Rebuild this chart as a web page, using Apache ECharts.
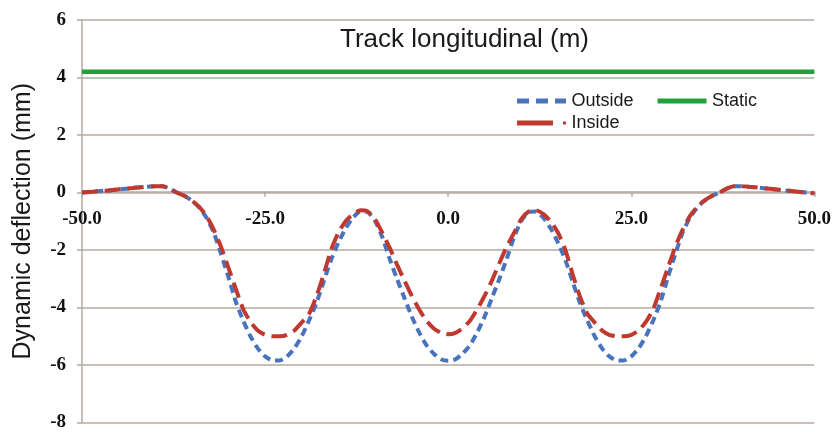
<!DOCTYPE html>
<html><head><meta charset="utf-8">
<script src="https://cdn.jsdelivr.net/npm/echarts@6/dist/echarts.min.js"></script>
<style>html,body{margin:0;padding:0;background:#fff}#c{width:834px;height:432px}</style>
</head><body><div id="c"></div>
<script>
// Track longitudinal position (m)
const positions = [-50,-49,-48,-47,-46,-45,-44,-43,-42,-41,-40,-39,-38,-37,-36,-35,-34,-33,-32,-31,-30,-29,-28,-27,-26,-25,-24,-23,-22,-21,-20,-19,-18,-17,-16,-15,-14,-13,-12,-11,-10,-9,-8,-7,-6,-5,-4,-3,-2,-1,0,1,2,3,4,5,6,7,8,9,10,11,12,13,14,15,16,17,18,19,20,21,22,23,24,25,26,27,28,29,30,31,32,33,34,35,36,37,38,39,40,41,42,43,44,45,46,47,48,49,50];
// Dynamic deflection (mm)
const outside = [0.00,0.02,0.04,0.06,0.08,0.11,0.13,0.16,0.18,0.20,0.22,0.22,0.13,-0.01,-0.12,-0.28,-0.52,-0.88,-1.40,-2.15,-2.95,-3.80,-4.45,-5.00,-5.42,-5.70,-5.84,-5.84,-5.70,-5.42,-5.00,-4.45,-3.85,-3.10,-2.35,-1.75,-1.25,-0.88,-0.66,-0.68,-0.98,-1.55,-2.30,-3.00,-3.65,-4.30,-4.85,-5.30,-5.60,-5.80,-5.85,-5.80,-5.60,-5.30,-4.85,-4.30,-3.65,-3.00,-2.30,-1.55,-0.98,-0.68,-0.66,-0.88,-1.25,-1.75,-2.35,-3.10,-3.85,-4.45,-5.00,-5.42,-5.70,-5.84,-5.84,-5.70,-5.42,-5.00,-4.45,-3.80,-2.95,-2.15,-1.40,-0.88,-0.52,-0.28,-0.12,-0.01,0.13,0.22,0.22,0.20,0.18,0.15,0.13,0.10,0.07,0.05,0.02,0.00,-0.03];
const inside = [0.00,0.02,0.04,0.06,0.08,0.11,0.13,0.16,0.18,0.20,0.22,0.22,0.13,-0.01,-0.12,-0.28,-0.50,-0.82,-1.30,-1.90,-2.62,-3.35,-4.05,-4.50,-4.80,-4.95,-5.00,-5.00,-4.95,-4.80,-4.52,-4.22,-3.62,-2.85,-2.00,-1.40,-1.00,-0.75,-0.62,-0.66,-0.92,-1.40,-1.92,-2.50,-3.05,-3.58,-4.05,-4.45,-4.72,-4.88,-4.93,-4.88,-4.72,-4.45,-4.05,-3.58,-3.05,-2.45,-1.88,-1.40,-0.92,-0.66,-0.62,-0.75,-1.00,-1.40,-2.00,-2.85,-3.62,-4.22,-4.52,-4.80,-4.95,-5.00,-5.00,-4.95,-4.80,-4.50,-4.05,-3.35,-2.62,-1.90,-1.30,-0.82,-0.50,-0.28,-0.12,-0.01,0.13,0.22,0.22,0.20,0.18,0.15,0.13,0.10,0.07,0.05,0.02,0.00,-0.03];
const staticValue = 4.2;
const staticRange = [-50, 50];
const yTicks = [-8,-6,-4,-2,0,2,4,6];
const xTicks = [-50,-25,0,25,50];

const gridTop = 20, gridBottom = 8, chartH = 432;
const yMin = -8, yMax = 6;
// move the x axis up so it sits on y = 0
const plotH = chartH - gridTop - gridBottom;
const xAxisOffset = -plotH * (0 - yMin) / (yMax - yMin);

const gridColor = '#b3aaa3';
const chart = echarts.init(document.getElementById('c'));
chart.setOption({
  animation: false,
  backgroundColor: '#fff',
  title: {
    text: 'Track longitudinal (m)', left: 335, top: 22,
    textStyle: { fontFamily: 'Liberation Sans', fontSize: 26, fontWeight: 'normal', color: '#1a1a1a' }
  },
  legend: [
    {
      left: 512, top: 87, itemWidth: 50, itemHeight: 5, itemGap: 24,
      textStyle: { fontFamily: 'Liberation Sans', fontSize: 18, color: '#1a1a1a' },
      data: [
        { name: 'Outside', icon: 'path://M0,0h12v5h-12z M19,0h12v5h-12z M38,0h11v5h-11z' },
        { name: 'Static', icon: 'path://M0,0h49v5h-49z' }
      ]
    },
    {
      left: 512, top: 109, itemWidth: 50, itemHeight: 5,
      textStyle: { fontFamily: 'Liberation Sans', fontSize: 18, color: '#1a1a1a' },
      data: [ { name: 'Inside', icon: 'path://M0,0h36v5h-36z M46,1h3v3h-3z' } ]
    }
  ],
  grid: { left: 82, right: 16, top: gridTop, bottom: gridBottom, containLabel: false },
  xAxis: {
    type: 'value', min: -50, max: 50, interval: 25,
    position: 'bottom', offset: xAxisOffset,
    axisLine: { onZero: false, lineStyle: { color: gridColor, width: 1.5 } },
    axisTick: { show: true, length: 5, lineStyle: { color: gridColor, width: 1.5 } },
    splitLine: { show: false },
    axisLabel: {
      margin: 18, color: '#111', fontFamily: 'Liberation Serif', fontWeight: 'bold', fontSize: 19,
      formatter: v => xTicks.includes(v) ? v.toFixed(1) : ''
    }
  },
  yAxis: {
    type: 'value', min: yMin, max: yMax, interval: 2,
    name: 'Dynamic deflection (mm)', nameLocation: 'middle', nameGap: 46,
    nameTextStyle: { fontFamily: 'Liberation Sans', fontSize: 25, color: '#1a1a1a' },
    axisLine: { show: true, onZero: false, lineStyle: { color: gridColor, width: 1.5 } },
    axisTick: { show: true, length: 5, lineStyle: { color: gridColor, width: 1.5 } },
    splitLine: { show: true, lineStyle: { color: gridColor, width: 1.5 } },
    axisLabel: {
      margin: 16, color: '#111', fontFamily: 'Liberation Serif', fontWeight: 'bold', fontSize: 19,
      formatter: v => yTicks.includes(v) ? String(v) : ''
    }
  },
  series: [
    {
      name: 'Outside', type: 'line', showSymbol: false, smooth: 0.2,
      data: positions.map((x, i) => [x, outside[i]]),
      itemStyle: { color: '#4a73be' },
      lineStyle: { color: '#4a73be', width: 4, type: [8, 5] },
      z: 3
    },
    {
      name: 'Inside', type: 'line', showSymbol: false, smooth: 0.2,
      data: positions.map((x, i) => [x, inside[i]]),
      itemStyle: { color: '#c0392f' },
      lineStyle: { color: '#c0392f', width: 4, type: [16, 7] },
      z: 4
    },
    {
      name: 'Static', type: 'line', showSymbol: false,
      data: staticRange.map(x => [x, staticValue]),
      itemStyle: { color: '#22a03a' },
      lineStyle: { color: '#22a03a', width: 4.5 },
      z: 5
    }
  ]
});
</script></body></html>
